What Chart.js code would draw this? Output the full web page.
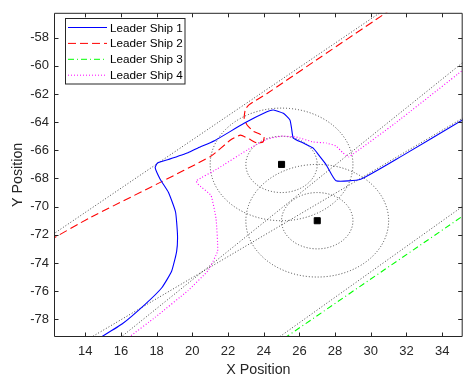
<!DOCTYPE html>
<html><head><meta charset="utf-8">
<script src="https://cdn.jsdelivr.net/npm/chart.js@4.4.0/dist/chart.umd.min.js"></script>
<style>html,body{margin:0;padding:0;background:#fff;overflow:hidden}</style>
</head><body>
<canvas id="c" width="468" height="377"></canvas>
<script>
// ---- data ----
const seriesNames = ['Leader Ship 1', 'Leader Ship 2', 'Leader Ship 3', 'Leader Ship 4'];

const ship1X = [14.85, 16.08, 17.37, 18.29, 18.84, 19.12, 19.17, 19.06, 18.66, 18.2, 17.92, 18.05, 18.66, 19.76, 20.32, 21.24, 22.9, 24.18, 24.55, 25.1, 25.47, 25.56, 25.66, 26.21, 26.76, 27.13, 27.5, 28.05, 29.43, 31.73, 35.2];
const ship1Y = [-79.3, -78.32, -76.92, -75.76, -74.59, -73.19, -72.02, -70.38, -68.98, -68.05, -67.23, -66.9, -66.65, -66.17, -65.83, -65.32, -64.08, -63.26, -63.14, -63.37, -63.84, -64.43, -65.13, -65.48, -65.83, -66.41, -67.02, -68.16, -68.05, -66.41, -63.8];

const ship2X = [12.0, 14.24, 18.01, 21.05, 22.14, 22.7, 23.19, 23.63, 23.96, 24.02, 23.8, 23.41, 23.08, 22.91, 22.97, 23.19, 24.19, 26.78, 30.54, 31.0];
const ship2Y = [-72.4, -70.8, -68.4, -66.41, -65.27, -64.92, -65.2, -65.48, -65.41, -65.06, -64.85, -64.64, -64.22, -63.73, -63.09, -62.75, -61.96, -59.73, -56.5, -56.1];

const ship3X = [25.15, 35.2];
const ship3Y = [-79.35, -70.63];

const ship4X = [16.3, 16.45, 17.92, 19.76, 20.87, 21.42, 21.33, 21.05, 20.31, 20.22, 21.42, 23.08, 24.19, 25.01, 25.84, 26.78, 27.5, 28.05, 28.44, 28.77, 31.36, 35.2];
const ship4Y = [-79.4, -79.27, -77.86, -75.96, -74.56, -73.16, -70.85, -69.21, -68.4, -68.16, -67.3, -65.97, -65.2, -64.99, -65.06, -65.41, -65.48, -65.69, -66.18, -66.46, -64.08, -60.26];

// reference (dotted) paths
const refAX = [11.5, 31.5];  const refAY = [-72.56, -55.38];
const refBX = [14.0, 35.5];  const refBY = [-79.53, -63.45];
const refCX = [15.7, 35.5];  const refCY = [-79.58, -59.41];
const refDX = [24.5, 35.5];  const refDY = [-79.6, -69.66];

// obstacles and their safety circles
const obstacleX = [25, 27];
const obstacleY = [-67, -71];
const safetyRadii = [2, 4];

// axis ticks
const xTicks = [14, 16, 18, 20, 22, 24, 26, 28, 30, 32, 34];
const yTicks = [-78, -76, -74, -72, -70, -68, -66, -64, -62, -60, -58];

// ---- build ----
const pts = (xs, ys) => xs.map((v, i) => ({x: v, y: ys[i]}));
const AX = '#262626';
const FONT = '"Liberation Sans", Arial, Helvetica, sans-serif';
const dotCol = 'rgba(40,40,40,0.85)';

const shipStyles = [
  {color: '#0000ff', dash: [], tension: 0.15},
  {color: '#ff0000', dash: [8, 4], tension: 0.15},
  {color: '#00ff00', dash: [6, 3, 1, 3], tension: 0},
  {color: '#ff00ff', dash: [1, 2], tension: 0.1}
];
const shipData = [pts(ship1X, ship1Y), pts(ship2X, ship2Y), pts(ship3X, ship3Y), pts(ship4X, ship4Y)];

const datasets = shipData.map((d, i) => ({
  label: seriesNames[i], data: d, showLine: true, pointRadius: 0,
  borderColor: shipStyles[i].color, borderWidth: 1.1, borderDash: shipStyles[i].dash,
  tension: shipStyles[i].tension, fill: false
}));
[[refAX, refAY], [refBX, refBY], [refCX, refCY], [refDX, refDY]].forEach(r => {
  datasets.push({label: '', data: pts(r[0], r[1]), showLine: true, pointRadius: 0,
    borderColor: dotCol, borderWidth: 1, borderDash: [1, 2], fill: false});
});
datasets.push({label: '', data: pts(obstacleX, obstacleY), showLine: false,
  pointStyle: 'rect', pointRadius: 4.3, backgroundColor: '#000', borderColor: '#000', borderWidth: 1});

const circlesPlugin = {
  id: 'circles',
  beforeDatasetsDraw(chart) {
    const {ctx, chartArea: a, scales: {x, y}} = chart;
    ctx.save();
    ctx.beginPath(); ctx.rect(a.left, a.top, a.right - a.left, a.bottom - a.top); ctx.clip();
    ctx.strokeStyle = dotCol; ctx.lineWidth = 1; ctx.setLineDash([1, 2]);
    obstacleX.forEach((ox, i) => {
      const oy = obstacleY[i];
      const cx = x.getPixelForValue(ox), cy = y.getPixelForValue(oy);
      safetyRadii.forEach(r => {
        const rx = Math.abs(x.getPixelForValue(ox + r) - cx);
        const ry = Math.abs(y.getPixelForValue(oy + r) - cy);
        ctx.beginPath(); ctx.ellipse(cx, cy, rx, ry, 0, 0, Math.PI * 2); ctx.stroke();
      });
    });
    ctx.restore();
  }
};

const axesPlugin = {
  id: 'axesBox',
  afterDraw(chart) {
    const {ctx, chartArea: a, scales: {x, y}} = chart;
    ctx.save();
    ctx.strokeStyle = AX; ctx.lineWidth = 1; ctx.setLineDash([]);
    const L = a.left + 0.5, R = a.right - 0.5, T = a.top + 0.5, B = a.bottom - 0.5;
    ctx.beginPath(); ctx.rect(L, T, R - L, B - T); ctx.stroke();
    const tl = 4;
    ctx.beginPath();
    xTicks.forEach(v => {
      const p = Math.round(x.getPixelForValue(v)) + 0.5;
      ctx.moveTo(p, B); ctx.lineTo(p, B - tl);
      ctx.moveTo(p, T); ctx.lineTo(p, T + tl);
    });
    yTicks.forEach(v => {
      const p = Math.round(y.getPixelForValue(v)) + 0.5;
      ctx.moveTo(L, p); ctx.lineTo(L + tl, p);
      ctx.moveTo(R, p); ctx.lineTo(R - tl, p);
    });
    ctx.stroke();

    // legend box (MATLAB style)
    const bx = 65.5, by = 18.5, bw = 119.5, bh = 65.5;
    ctx.fillStyle = '#fff'; ctx.fillRect(bx, by, bw, bh);
    ctx.strokeStyle = AX; ctx.strokeRect(bx, by, bw, bh);
    ctx.font = '11.7px ' + FONT; ctx.textBaseline = 'middle'; ctx.textAlign = 'left';
    seriesNames.forEach((n, i) => {
      const cy = 27.5 + i * 15.9;
      ctx.strokeStyle = shipStyles[i].color; ctx.lineWidth = 1; ctx.setLineDash(shipStyles[i].dash);
      ctx.beginPath(); ctx.moveTo(68, cy); ctx.lineTo(107, cy); ctx.stroke();
      ctx.fillStyle = '#000'; ctx.fillText(n, 110, cy + 0.8);
    });
    ctx.restore();
  }
};

new Chart(document.getElementById('c'), {
  type: 'scatter',
  data: {datasets},
  options: {
    responsive: false, animation: false, devicePixelRatio: 1,
    layout: {padding: {left: 0, right: 0.5, top: 8, bottom: 0}},
    plugins: {legend: {display: false}, tooltip: {enabled: false}},
    scales: {
      x: {
        type: 'linear', min: 12.25, max: 35.15,
        grid: {display: false, drawTicks: false}, border: {display: false},
        afterBuildTicks: s => { s.ticks = xTicks.map(v => ({value: v})); },
        afterFit: s => { s.height = 40; },
        ticks: {padding: 7, color: AX, font: {family: FONT, size: 13}, maxRotation: 0, autoSkip: false},
        title: {display: true, text: 'X Position', color: AX, font: {family: FONT, size: 14.3, lineHeight: 1}, padding: {top: 0, bottom: 0}}
      },
      y: {
        type: 'linear', min: -79.26, max: -56.23,
        grid: {display: false, drawTicks: false}, border: {display: false},
        afterBuildTicks: s => { s.ticks = yTicks.map(v => ({value: v})); },
        afterFit: s => { s.width = 54; },
        ticks: {padding: 5, color: AX, font: {family: FONT, size: 13}, autoSkip: false},
        title: {display: true, text: 'Y Position', color: AX, font: {family: FONT, size: 14.3, lineHeight: 1}, padding: {top: 11.3, bottom: 0}}
      }
    }
  },
  plugins: [circlesPlugin, axesPlugin]
});
</script>
</body></html>
